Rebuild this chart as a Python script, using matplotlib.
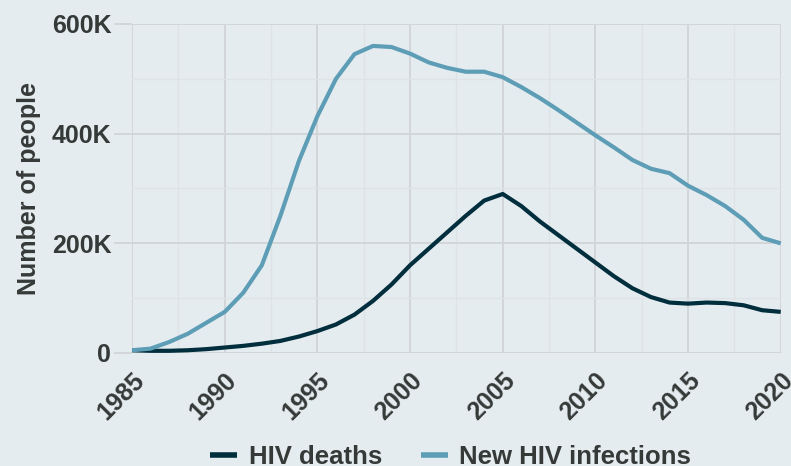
import matplotlib
matplotlib.use("Agg")
import numpy as np
from matplotlib import pyplot as plt
from matplotlib.ticker import FuncFormatter, MultipleLocator

years = list(range(1985, 2021))

new_infections = [5, 8, 20, 35, 55, 75, 110, 160, 250, 350, 432, 500, 545, 560, 558,
                  546, 530, 520, 513, 513, 503, 485, 465, 443, 420, 397, 375, 352, 336,
                  328, 305, 288, 268, 243, 210, 200]
hiv_deaths = [5, 4, 4, 5, 7, 10, 13, 17, 22, 30, 40, 52, 70, 95, 125, 160, 190, 220, 250,
              278, 290, 268, 240, 215, 190, 165, 140, 118, 102, 92, 90, 92, 91, 87, 78, 75]

bg = "#e5ecf0"
text_col = "#353a38"
grid_col = "#d2d4d6"
minor_col = "#dfe3e6"

plt.rcParams["font.family"] = ["Liberation Sans", "DejaVu Sans"]
plt.rcParams["font.weight"] = "bold"

fig = plt.figure(figsize=(7.91, 4.66), dpi=100, facecolor=bg)
ax = fig.add_axes([0.167, 0.2425, 0.82, 0.706], facecolor=bg)

x = np.array(years)
ax.plot(x, np.array(hiv_deaths) * 1000, color="#012e3d", lw=3.0, label="HIV deaths",
        solid_capstyle="butt", solid_joinstyle="round", zorder=3, clip_on=False)
ax.plot(x, np.array(new_infections) * 1000, color="#5e9db6", lw=3.0, label="New HIV infections",
        solid_capstyle="butt", solid_joinstyle="round", zorder=3, clip_on=False)

ax.set_xlim(1985, 2020)
ax.set_ylim(0, 600000)
ax.xaxis.set_major_locator(MultipleLocator(5))
ax.xaxis.set_minor_locator(MultipleLocator(2.5))
ax.yaxis.set_major_locator(MultipleLocator(200000))
ax.yaxis.set_minor_locator(MultipleLocator(100000))
ax.yaxis.set_major_formatter(FuncFormatter(lambda v, p: "0" if v == 0 else f"{int(v/1000)}K"))

ax.grid(which="major", color=grid_col, lw=1.3)
ax.grid(which="minor", color=minor_col, lw=1.0)
ax.set_axisbelow(True)
for s in ax.spines.values():
    s.set_visible(False)

ax.tick_params(axis="y", which="major", length=13, color=grid_col, width=1.3,
               labelsize=18, labelcolor=text_col, pad=2)
ax.tick_params(axis="x", which="major", length=0, labelsize=18, labelcolor=text_col, pad=11)
ax.tick_params(which="minor", length=0)
for lab in ax.get_xticklabels():
    lab.set_rotation(45)
    lab.set_ha("right")
    lab.set_va("top")
    lab.set_rotation_mode("anchor")

ax.set_ylabel("Number of people", fontsize=18, color=text_col, fontweight="bold", labelpad=8)

leg = fig.legend(loc="lower center", bbox_to_anchor=(0.57, -0.055), ncol=2, frameon=False,
                 fontsize=18.5, handlelength=1.05, handletextpad=0.45, columnspacing=1.5)
for t in leg.get_texts():
    t.set_color(text_col)
for h in leg.get_lines():
    h.set_linewidth(4)

fig.savefig("out.png", dpi=100, facecolor=bg)
